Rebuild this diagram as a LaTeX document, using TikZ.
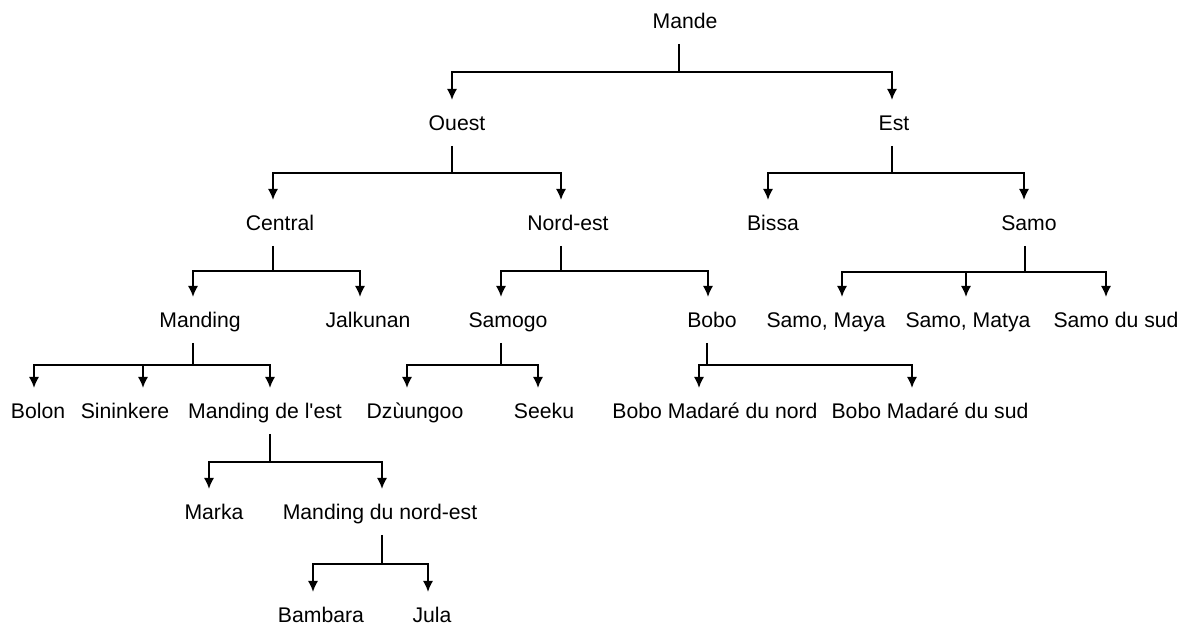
\documentclass[tikz,border=0pt]{standalone}
\usepackage{fontspec}
\setmainfont{Liberation Sans}
\usetikzlibrary{arrows.meta}
\begin{document}
\begin{tikzpicture}[x=0.5pt,y=-0.5pt]
  \tikzset{ lang/.style={inner sep=0pt, minimum height=22pt, text height=7.6pt, text depth=0pt,
      font=\fontsize{10.6pt}{12pt}\selectfont},
    arr/.style={-{Latex[length=5.6pt,width=5.2pt]}} };
  \useasboundingbox (0,0) rectangle (1189,625);
  \begin{scope}[line width=1pt]
  % nodes
  \node[lang] (Mande) at (685,21) {Mande};
  \node[lang] (Ouest) at (457,123) {Ouest};
  \node[lang] (Est) at (894,123) {Est};
  \node[lang] (Central) at (280,223) {Central};
  \node[lang] (Nordest) at (568,223) {Nord-est};
  \node[lang] (Bissa) at (773,223) {Bissa};
  \node[lang] (Samo) at (1029,223) {Samo};
  \node[lang] (Manding) at (200,320) {Manding};
  \node[lang] (Jalkunan) at (368,320) {Jalkunan};
  \node[lang] (Samogo) at (508,320) {Samogo};
  \node[lang] (Bobo) at (712,320) {Bobo};
  \node[lang] (SamoMaya) at (826,320) {Samo, Maya};
  \node[lang] (SamoMatya) at (968,320) {Samo, Matya};
  \node[lang] (SamoSud) at (1116,320) {Samo du sud};
  \node[lang] (Bolon) at (38,411) {Bolon};
  \node[lang] (Sininkere) at (125,411) {Sininkere};
  \node[lang] (MandEst) at (265,411) {Manding de l\textquotesingle est};
  \node[lang] (Dzuungoo) at (415,411) {Dzùungoo};
  \node[lang] (Seeku) at (544,411) {Seeku};
  \node[lang] (BoboNord) at (715,411) {Bobo Madaré du nord};
  \node[lang] (BoboSud) at (930,411) {Bobo Madaré du sud};
  \node[lang] (Marka) at (214,512) {Marka};
  \node[lang] (MandNE) at (380,512) {Manding du nord-est};
  \node[lang] (Bambara) at (321,615) {Bambara};
  \node[lang] (Jula) at (432,615) {Jula};
  % junctions
  \coordinate (jMande) at (679,72);
  \coordinate (jOuest) at (452,173);
  \coordinate (jEst) at (892,173);
  \coordinate (jCentral) at (273,271);
  \coordinate (jNordest) at (561,271);
  \coordinate (jSamo) at (1025,272);
  \coordinate (jManding) at (193,365);
  \coordinate (jSamogo) at (501,365);
  \coordinate (jBobo) at (707,365);
  \coordinate (jMandEst) at (270,462);
  \coordinate (jMandNE) at (382,564);
  % stems
  \draw (Mande.south -| jMande) -- (jMande);
  \draw (Ouest.south -| jOuest) -- (jOuest);
  \draw (Est.south -| jEst) -- (jEst);
  \draw (Central.south -| jCentral) -- (jCentral);
  \draw (Nordest.south -| jNordest) -- (jNordest);
  \draw (Samo.south -| jSamo) -- (jSamo);
  \draw (Manding.south -| jManding) -- (jManding);
  \draw (Samogo.south -| jSamogo) -- (jSamogo);
  \draw (Bobo.south -| jBobo) -- (jBobo);
  \draw (MandEst.south -| jMandEst) -- (jMandEst);
  \draw (MandNE.south -| jMandNE) -- (jMandNE);
  % branches
  \draw[arr] (jMande) -| ([xshift=-2.5pt]Ouest.north);
  \draw[arr] (jMande) -| ([xshift=-1pt]Est.north);
  \draw[arr] (jOuest) -| ([xshift=-3.5pt]Central.north);
  \draw[arr] (jOuest) -| ([xshift=-3.5pt]Nordest.north);
  \draw[arr] (jEst) -| ([xshift=-2.5pt]Bissa.north);
  \draw[arr] (jEst) -| ([xshift=-2.5pt]Samo.north);
  \draw[arr] (jCentral) -| ([xshift=-3.5pt]Manding.north);
  \draw[arr] (jCentral) -| ([xshift=-4pt]Jalkunan.north);
  \draw[arr] (jNordest) -| ([xshift=-3.5pt]Samogo.north);
  \draw[arr] (jNordest) -| ([xshift=-2pt]Bobo.north);
  \draw[arr] (jSamo) -| ([xshift=8pt]SamoMaya.north);
  \draw[arr] (jSamo) -| ([xshift=-1pt]SamoMatya.north);
  \draw[arr] (jSamo) -| ([xshift=-5pt]SamoSud.north);
  \draw[arr] (jManding) -| ([xshift=-2pt]Bolon.north);
  \draw[arr] (jManding) -| ([xshift=9pt]Sininkere.north);
  \draw[arr] (jManding) -| ([xshift=2.5pt]MandEst.north);
  \draw[arr] (jSamogo) -| ([xshift=-4pt]Dzuungoo.north);
  \draw[arr] (jSamogo) -| ([xshift=-3pt]Seeku.north);
  \draw[arr] (jBobo) -| ([xshift=-8pt]BoboNord.north);
  \draw[arr] (jBobo) -| ([xshift=-9pt]BoboSud.north);
  \draw[arr] (jMandEst) -| ([xshift=-2.5pt]Marka.north);
  \draw[arr] (jMandEst) -| ([xshift=1pt]MandNE.north);
  \draw[arr] (jMandNE) -| ([xshift=-4pt]Bambara.north);
  \draw[arr] (jMandNE) -| ([xshift=-2pt]Jula.north);
  \end{scope}
\end{tikzpicture}
\end{document}
